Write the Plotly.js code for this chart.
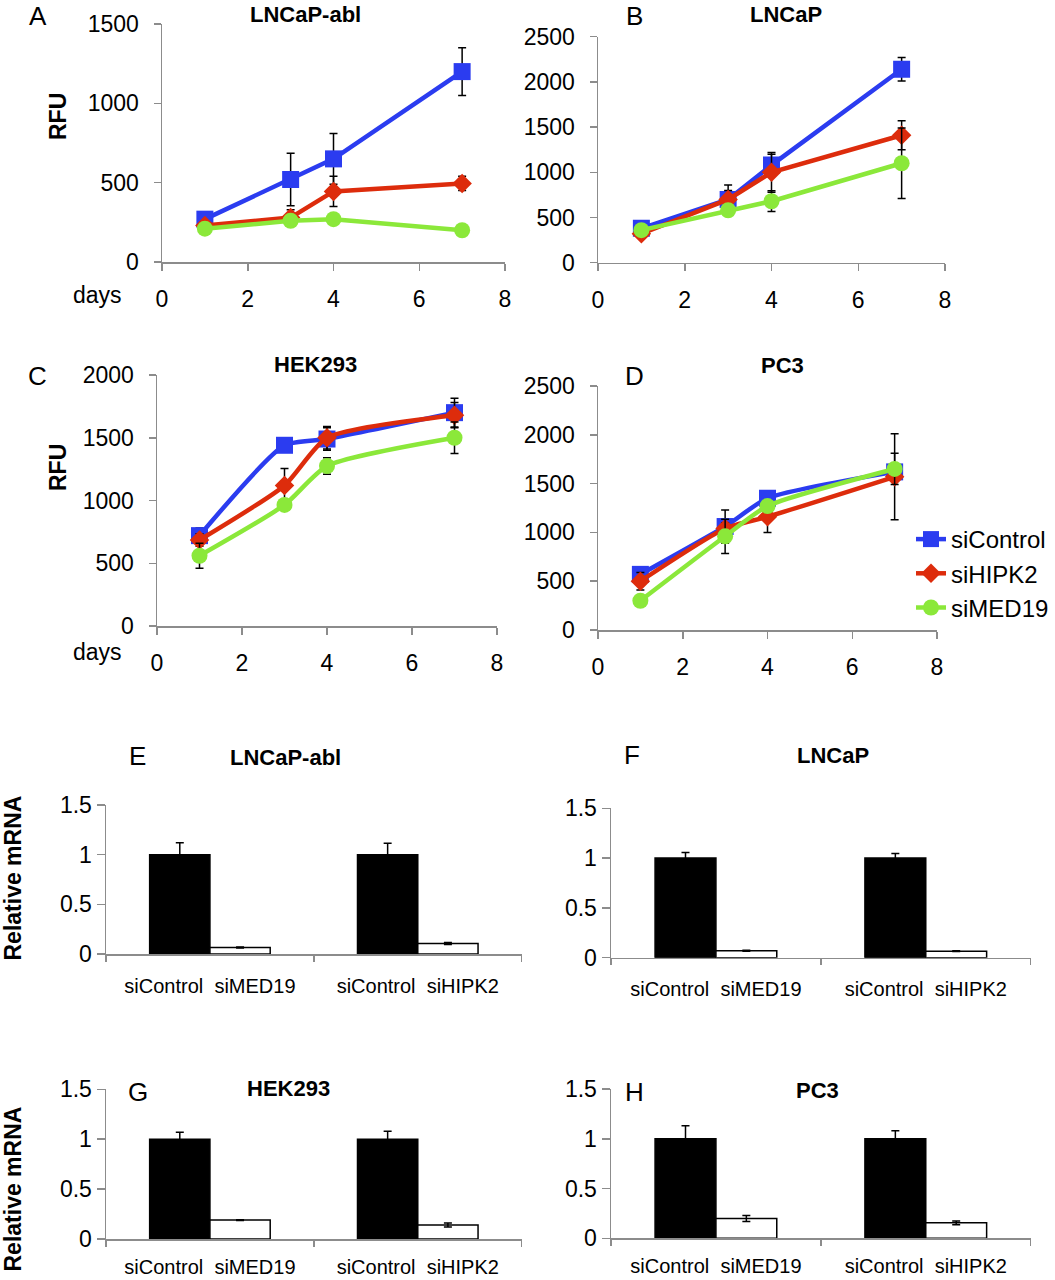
<!DOCTYPE html>
<html>
<head>
<meta charset="utf-8">
<script src="https://cdn.plot.ly/plotly-3.0.1.min.js"></script>
<style>html,body{margin:0;padding:0;background:#fff;}#chart{width:1055px;height:1280px;}</style>
</head>
<body>
<div id="chart"></div>
<script>
// ---------------- DATA ----------------
const days = [1, 3, 4, 7];
const seriesNames = ["siControl", "siHIPK2", "siMED19"];

// Panel A: LNCaP-abl (RFU)
const A_ctrl = [270, 520, 650, 1200];  const A_ctrl_err = [40, 165, 160, 150];
const A_hipk2 = [230, 280, 445, 495];  const A_hipk2_err = [20, 50, 95, 45];
const A_med19 = [210, 260, 270, 200];  const A_med19_err = [15, 20, 15, 15];

// Panel B: LNCaP (RFU)
const B_ctrl = [380, 700, 1080, 2140]; const B_ctrl_err = [40, 160, 120, 130];
const B_hipk2 = [320, 700, 1000, 1410]; const B_hipk2_err = [30, 100, 220, 160];
const B_med19 = [360, 580, 680, 1100]; const B_med19_err = [30, 40, 115, 390];

// Panel C: HEK293 (RFU)
const C_ctrl = [720, 1440, 1490, 1700]; const C_ctrl_err = [60, 30, 90, 115];
const C_hipk2 = [685, 1120, 1500, 1680]; const C_hipk2_err = [50, 135, 90, 100];
const C_med19 = [560, 965, 1275, 1500]; const C_med19_err = [100, 40, 65, 125];

// Panel D: PC3 (RFU)
const D_ctrl = [570, 1060, 1350, 1620]; const D_ctrl_err = [50, 170, 40, 60];
const D_hipk2 = [500, 1040, 1160, 1570]; const D_hipk2_err = [90, 60, 160, 440];
const D_med19 = [300, 960, 1270, 1650]; const D_med19_err = [30, 175, 60, 160];

// Bar panels: relative mRNA
const knockdowns = ["siMED19", "siHIPK2"];
const E_ctrl = [1, 1];       const E_ctrl_err = [0.12, 0.115];
const E_kd = [0.065, 0.105]; const E_kd_err = [0.005, 0.01];
const F_ctrl = [1, 1];       const F_ctrl_err = [0.055, 0.045];
const F_kd = [0.07, 0.065];  const F_kd_err = [0.006, 0.004];
const G_ctrl = [1, 1];       const G_ctrl_err = [0.07, 0.08];
const G_kd = [0.19, 0.14];   const G_kd_err = [0.004, 0.02];
const H_ctrl = [1, 1];       const H_ctrl_err = [0.13, 0.08];
const H_kd = [0.2, 0.155];   const H_kd_err = [0.03, 0.02];

// ---------------- STYLE ----------------
const W = 1055, H = 1280;
const FONT = "Liberation Sans, Arial, Helvetica, sans-serif";
const colors = ["#2b3cf0", "#dd2c0c", "#8be83a"];
const symbols = ["square", "diamond", "circle"];
const msizes = [17, 15, 16];
const AXC = "#8c8c8c";

function dx(a, b) { return [a / W, b / W]; }
function dy(top, bottom) { return [1 - bottom / H, 1 - top / H]; }

const traces = [];
function linePanel(idx, vals, errs, shape, legend) {
  for (let i = 0; i < 3; i++) {
    traces.push({
      type: "scatter", mode: "lines+markers",
      x: days, y: vals[i], name: seriesNames[i],
      xaxis: "x" + idx, yaxis: "y" + idx,
      line: { color: colors[i], width: 4.5, shape: shape, smoothing: 0.6 },
      marker: { color: colors[i], symbol: symbols[i], size: msizes[i] },
      error_y: { type: "data", array: errs[i], color: "#000", thickness: 1.5, width: 4 },
      showlegend: legend, legendgroup: seriesNames[i]
    });
  }
}
linePanel(1, [A_ctrl, A_hipk2, A_med19], [A_ctrl_err, A_hipk2_err, A_med19_err], "linear", false);
linePanel(2, [B_ctrl, B_hipk2, B_med19], [B_ctrl_err, B_hipk2_err, B_med19_err], "linear", false);
linePanel(3, [C_ctrl, C_hipk2, C_med19], [C_ctrl_err, C_hipk2_err, C_med19_err], "spline", false);
linePanel(4, [D_ctrl, D_hipk2, D_med19], [D_ctrl_err, D_hipk2_err, D_med19_err], "spline", true);

const barCats = knockdowns.map(k => "siControl\u00a0\u00a0" + k);
function barPanel(idx, ctrl, ctrlErr, kd, kdErr) {
  traces.push({
    type: "bar", x: barCats, y: ctrl, xaxis: "x" + idx, yaxis: "y" + idx,
    marker: { color: "#000", line: { color: "#000", width: 1.5 } },
    error_y: { type: "data", array: ctrlErr, color: "#000", thickness: 1.5, width: 4 },
    showlegend: false
  });
  traces.push({
    type: "bar", x: barCats, y: kd, xaxis: "x" + idx, yaxis: "y" + idx,
    marker: { color: "#fff", line: { color: "#000", width: 1.5 } },
    error_y: { type: "data", array: kdErr, color: "#000", thickness: 1.5, width: 4 },
    showlegend: false
  });
}
barPanel(5, E_ctrl, E_ctrl_err, E_kd, E_kd_err);
barPanel(6, F_ctrl, F_ctrl_err, F_kd, F_kd_err);
barPanel(7, G_ctrl, G_ctrl_err, G_kd, G_kd_err);
barPanel(8, H_ctrl, H_ctrl_err, H_kd, H_kd_err);

function lineX(domain, anchor) {
  return {
    domain: domain, anchor: anchor, range: [0, 8], tickvals: [0, 2, 4, 6, 8],
    showline: true, linecolor: AXC, linewidth: 1.5, ticks: "outside", ticklen: 7, tickcolor: AXC, tickwidth: 1.5,
    showgrid: false, zeroline: false, ticklabelstandoff: 9,
    tickfont: { family: FONT, size: 23, color: "#000" }, fixedrange: true
  };
}
function lineY(domain, anchor, max, step) {
  return {
    domain: domain, anchor: anchor, range: [0, max], dtick: step, tick0: 0,
    showline: true, linecolor: AXC, linewidth: 1.5, ticks: "outside", ticklen: 7, tickcolor: AXC, tickwidth: 1.5,
    showgrid: false, zeroline: false, ticklabelstandoff: 10,
    tickfont: { family: FONT, size: 23, color: "#000" }, fixedrange: true
  };
}
function barX(domain, anchor, standoff) {
  return {
    domain: domain, anchor: anchor, type: "category", tickson: "boundaries",
    showline: true, linecolor: AXC, linewidth: 1.5, ticks: "outside", ticklen: 6, tickcolor: AXC, tickwidth: 1.5,
    showgrid: false, zeroline: false, ticklabelstandoff: standoff,
    tickfont: { family: FONT, size: 20, color: "#000" }, fixedrange: true
  };
}
function barY(domain, anchor) {
  return {
    domain: domain, anchor: anchor, range: [0, 1.5], dtick: 0.5, tick0: 0,
    showline: true, linecolor: AXC, linewidth: 1.5, ticks: "outside", ticklen: 8, tickcolor: AXC, tickwidth: 1.5,
    showgrid: false, zeroline: false, ticklabelstandoff: 0,
    tickfont: { family: FONT, size: 23, color: "#000" }, fixedrange: true
  };
}

function ann(text, px, py, size, bold, angle) {
  return {
    text: bold ? "<b>" + text + "</b>" : text, xref: "paper", yref: "paper",
    x: px / W, y: 1 - py / H, xanchor: "center", yanchor: "middle",
    showarrow: false, textangle: angle || 0,
    font: { family: FONT, size: size, color: "#000" }
  };
}

const layout = {
  width: W, height: H, margin: { l: 0, r: 0, t: 0, b: 0 },
  paper_bgcolor: "#fff", plot_bgcolor: "rgba(0,0,0,0)",
  font: { family: FONT, color: "#000" },
  barmode: "group", bargap: 0.42, bargroupgap: 0,
  xaxis1: lineX(dx(162, 505), "y1"), yaxis1: lineY(dy(24, 262), "x1", 1500, 500),
  xaxis2: lineX(dx(598, 945), "y2"), yaxis2: lineY(dy(36.7, 262.7), "x2", 2500, 500),
  xaxis3: lineX(dx(157, 497), "y3"), yaxis3: lineY(dy(375, 626), "x3", 2000, 500),
  xaxis4: lineX(dx(598, 937), "y4"), yaxis4: lineY(dy(386, 630), "x4", 2500, 500),
  xaxis5: barX(dx(106, 521.7), "y5", 13), yaxis5: barY(dy(805, 954), "x5"),
  xaxis6: barX(dx(611, 1030.7), "y6", 13), yaxis6: barY(dy(808.3, 957.7), "x6"),
  xaxis7: barX(dx(106, 521.7), "y7", 9), yaxis7: barY(dy(1089.3, 1239), "x7"),
  xaxis8: barX(dx(611, 1030.7), "y8", 9), yaxis8: barY(dy(1089, 1238.3), "x8"),
  showlegend: true,
  legend: {
    x: 911 / W, y: 1 - 517 / H, xanchor: "left", yanchor: "top",
    bgcolor: "rgba(0,0,0,0)", borderwidth: 0, traceorder: "normal",
    font: { family: FONT, size: 24, color: "#000" }, itemwidth: 30, tracegroupgap: 0
  },
  annotations: [
    ann("A", 38, 16, 26, false), ann("B", 634, 16, 26, false),
    ann("C", 37.5, 376, 26, false), ann("D", 634, 376, 26, false),
    ann("E", 137.5, 756, 26, false), ann("F", 632, 755, 26, false),
    ann("G", 138, 1092, 26, false), ann("H", 634, 1092, 26, false),
    ann("LNCaP-abl", 305, 14, 22, true), ann("LNCaP", 786, 14, 22, true),
    ann("HEK293", 315, 364, 22, true), ann("PC3", 782, 366, 22, true),
    ann("LNCaP-abl", 285, 757, 22, true), ann("LNCaP", 833, 755, 22, true),
    ann("HEK293", 288, 1088, 22, true), ann("PC3", 817, 1090, 22, true),
    ann("RFU", 58, 117, 23, true, -90), ann("RFU", 58, 468, 23, true, -90),
    ann("days", 97, 295, 23, false), ann("days", 97, 652, 23, false),
    ann("Relative mRNA", 12.5, 878, 23, true, -90), ann("Relative mRNA", 12.5, 1189, 23, true, -90)
  ]
};

Plotly.newPlot("chart", traces, layout, { staticPlot: true, displayModeBar: false });
</script>
</body>
</html>
